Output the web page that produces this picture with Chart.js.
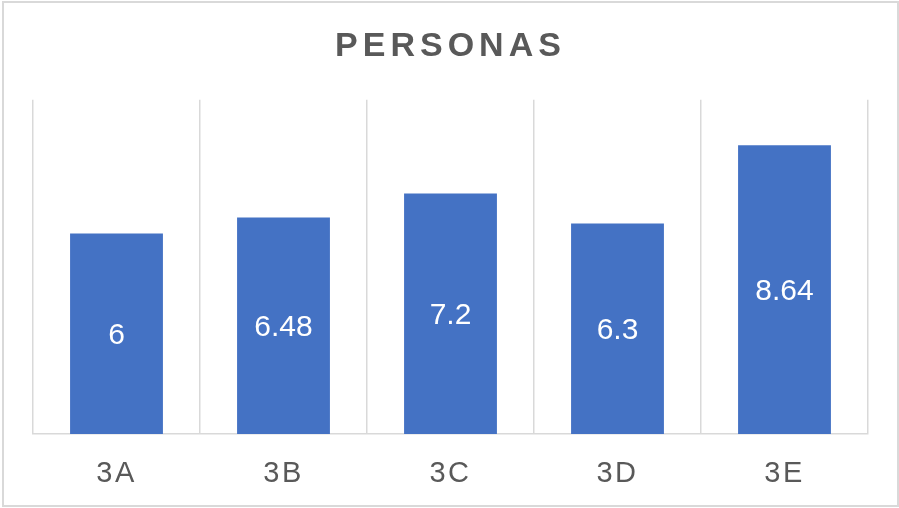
<!DOCTYPE html>
<html>
<head>
<meta charset="utf-8">
<script src="https://cdn.jsdelivr.net/npm/chart.js@4.4.1/dist/chart.umd.min.js"></script>
<style>
  html, body { margin: 0; padding: 0; background: #fff; }
  #wrap { position: absolute; left: 0; top: 0; width: 899px; height: 508px; }
  #frame { position: absolute; left: 2px; top: 1px; width: 897px; height: 506px;
           box-sizing: border-box; border: 2px solid #d9d9d9; pointer-events: none; }
</style>
</head>
<body>
<div id="wrap"><canvas id="chart" width="899" height="508"></canvas></div>
<div id="frame"></div>
<script>
const categories = ["3A", "3B", "3C", "3D", "3E"];
const personas   = [6, 6.48, 7.2, 6.3, 8.64];
const chartTitle = "PERSONAS";

const FONT = "'Liberation Sans', Arial, sans-serif";
const TEXT = "#595959";

// letter spacing for title / ticks, and value labels inside bars
const spacingPlugin = {
  id: "spacing",
  beforeDraw(chart) { chart.ctx.letterSpacing = "5px"; },
  beforeDatasetsDraw(chart) { chart.ctx.letterSpacing = "0px"; },
  afterDatasetsDraw(chart) {
    const ctx = chart.ctx;
    const meta = chart.getDatasetMeta(0);
    ctx.save();
    ctx.letterSpacing = "0px";
    ctx.fillStyle = "#ffffff";
    ctx.font = "30px " + FONT;
    ctx.textAlign = "center";
    ctx.textBaseline = "middle";
    meta.data.forEach((bar, i) => {
      ctx.fillText(String(personas[i]), bar.x, (bar.y + bar.base) / 2 + 2);
    });
    ctx.restore();
    ctx.letterSpacing = "2.5px";
  },
  afterDraw(chart) { chart.ctx.letterSpacing = "0px"; }
};

new Chart(document.getElementById("chart"), {
  type: "bar",
  data: {
    labels: categories,
    datasets: [{
      data: personas,
      backgroundColor: "#4472C4",
      barPercentage: 0.556,
      categoryPercentage: 1
    }]
  },
  options: {
    responsive: false,
    animation: false,
    layout: { padding: { left: 33, right: 31, top: 0, bottom: 0 } },
    plugins: {
      legend: { display: false },
      tooltip: { enabled: false },
      title: {
        display: true,
        text: chartTitle,
        color: TEXT,
        font: { family: FONT, size: 34, weight: "bold", lineHeight: 1.2 },
        padding: { top: 26, bottom: 33 }
      }
    },
    scales: {
      x: {
        afterFit(scale) { scale.height = 74; },
        grid: { color: "#d9d9d9", lineWidth: 1.5, drawTicks: false, offset: true },
        border: { color: "#d9d9d9", width: 1.5 },
        ticks: { color: TEXT, font: { family: FONT, size: 29 }, padding: 23, z: 1 }
      },
      y: { display: false, min: 0, max: 10 }
    }
  },
  plugins: [spacingPlugin]
});
</script>
</body>
</html>
